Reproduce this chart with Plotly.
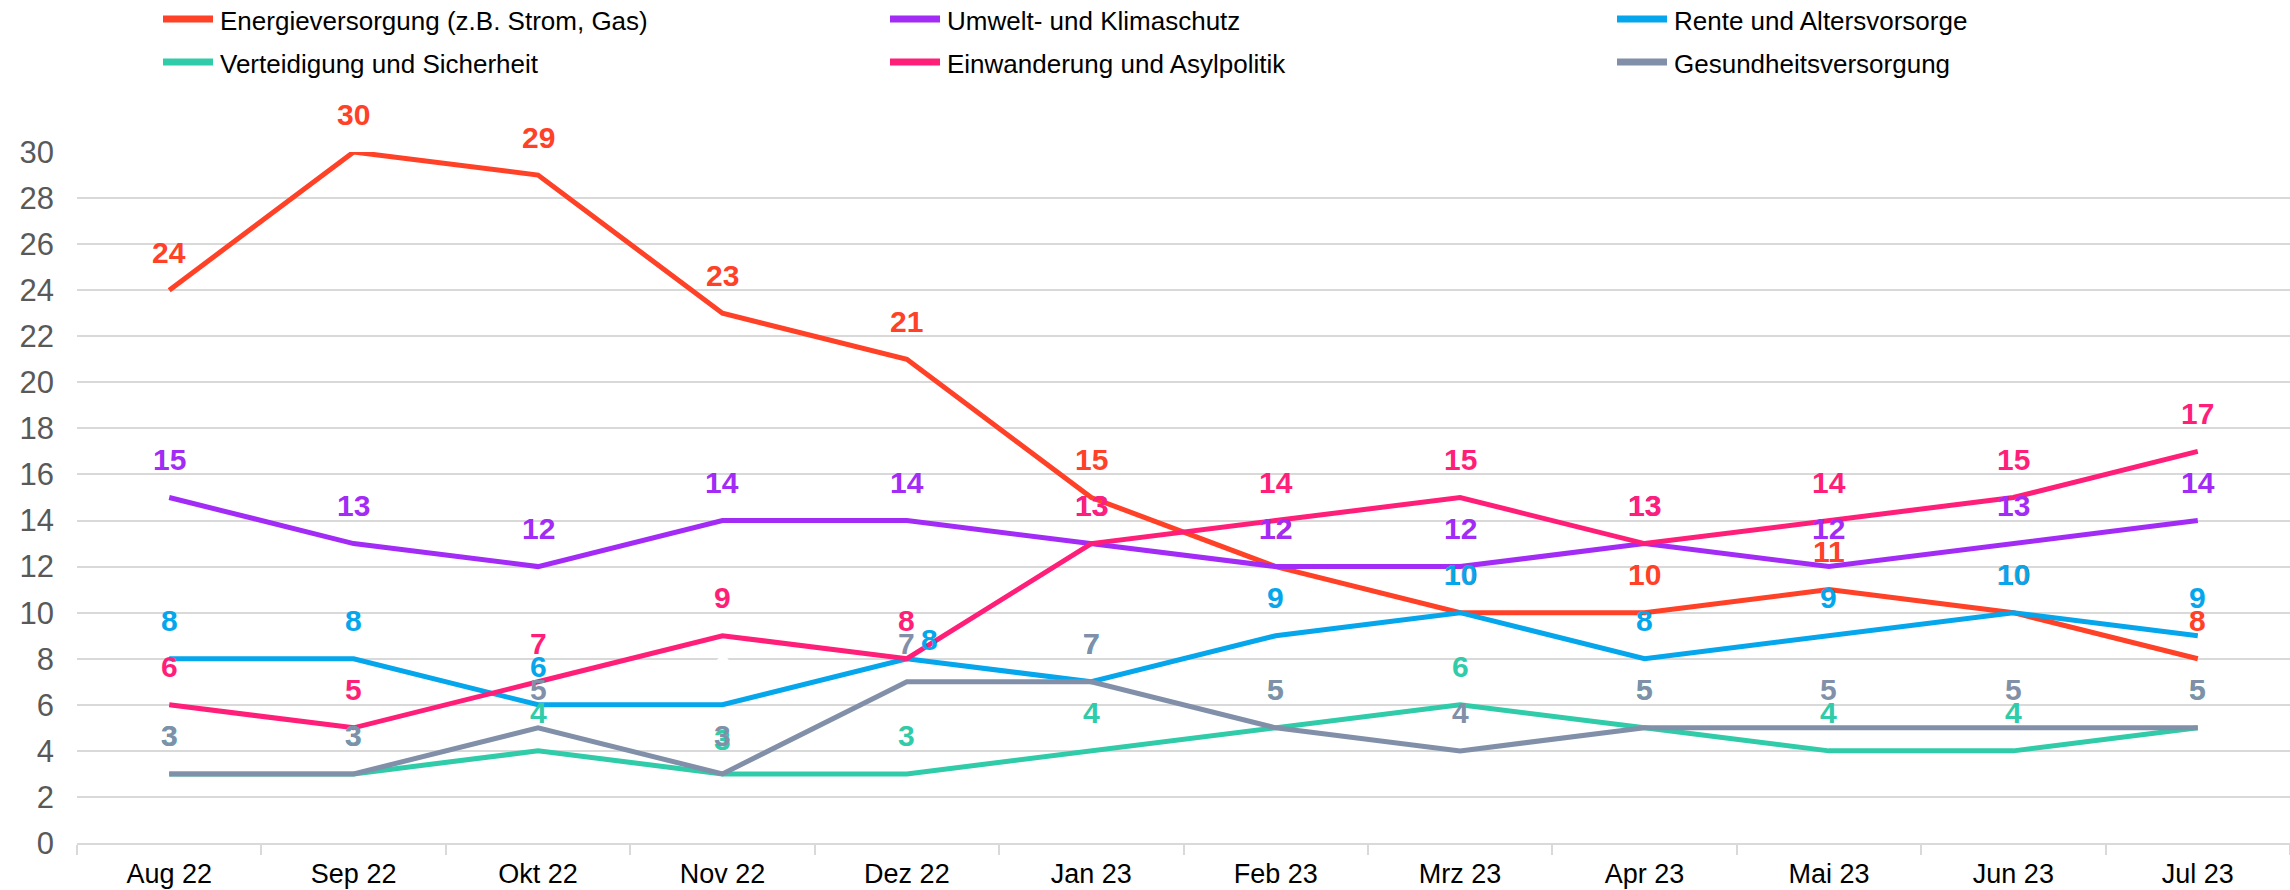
import plotly.graph_objects as go

months = ["Aug 22", "Sep 22", "Okt 22", "Nov 22", "Dez 22", "Jan 23",
          "Feb 23", "Mrz 23", "Apr 23", "Mai 23", "Jun 23", "Jul 23"]

energie = [24, 30, 29, 23, 21, 15, 12, 10, 10, 11, 10, 8]
umwelt = [15, 13, 12, 14, 14, 13, 12, 12, 13, 12, 13, 14]
rente = [8, 8, 6, 6, 8, 7, 9, 10, 8, 9, 10, 9]
verteidigung = [3, 3, 4, 3, 3, 4, 5, 6, 5, 4, 4, 5]
einwanderung = [6, 5, 7, 9, 8, 13, 14, 15, 13, 14, 15, 17]
gesundheit = [3, 3, 5, 3, 7, 7, 5, 4, 5, 5, 5, 5]

series_names = ["Energieversorgung (z.B. Strom, Gas)", "Umwelt- und Klimaschutz",
                "Rente und Altersvorsorge", "Verteidigung und Sicherheit",
                "Einwanderung und Asylpolitik", "Gesundheitsversorgung"]
series_values = [energie, umwelt, rente, verteidigung, einwanderung, gesundheit]
series_colors = ["#FF4127", "#A22CF6", "#05A6EB", "#30CBA8", "#FF1F79", "#8190A8"]

# label style overrides (series index, point index) -> (xshift, yshift, color)
label_overrides = {
    (2, 3): (0, 38, "#FFFFFF"),
    (2, 4): (23, 19, None),
    (3, 3): (0, 34, None),
}

FONT = "Liberation Sans, Arial, sans-serif"
W, H = 2290, 890
ML, MR, MT, MB = 77, 0, 152, 47
PW, PH = W - ML - MR, H - MT - MB


def px2x(px):
    return (px - ML) / PW


def py2y(py):
    return (H - MB - py) / PH


fig = go.Figure()
for name, vals, col in zip(series_names, series_values, series_colors):
    fig.add_trace(go.Scatter(
        x=months, y=vals, name=name, mode="lines",
        line=dict(color=col, width=5),
        hoverinfo="skip", showlegend=False,
    ))

annotations = []
for si, (vals, col) in enumerate(zip(series_values, series_colors)):
    for pi, (m, v) in enumerate(zip(months, vals)):
        xs, ys, c = 0, 38, col
        if (si, pi) in label_overrides:
            xs, ys, oc = label_overrides[(si, pi)]
            if oc:
                c = oc
        annotations.append(dict(
            x=m, y=v, xref="x", yref="y", text=f"<b>{v}</b>", showarrow=False,
            xshift=xs, yshift=ys, xanchor="center", yanchor="middle",
            font=dict(family=FONT, size=30, color=c),
        ))

# legend: 3 columns x 2 rows
legend_cols = [161, 888, 1615]
legend_rows = [19, 62]
shapes = []
for i, (name, col) in enumerate(zip(series_names, series_colors)):
    cx = legend_cols[i % 3]
    ry = legend_rows[i // 3]
    shapes.append(dict(
        type="line", xref="paper", yref="paper",
        x0=px2x(cx + 2), x1=px2x(cx + 52), y0=py2y(ry), y1=py2y(ry),
        line=dict(color=col, width=7),
    ))
    annotations.append(dict(
        x=px2x(cx + 57), y=py2y(ry + 2), xref="paper", yref="paper",
        text=name, showarrow=False, xanchor="left", yanchor="middle",
        font=dict(family=FONT, size=26, color="#000000"),
    ))

fig.update_layout(
    width=W, height=H,
    margin=dict(l=ML, r=MR, t=MT, b=MB),
    paper_bgcolor="white", plot_bgcolor="white",
    font=dict(family=FONT, color="#000000"),
    annotations=annotations,
    shapes=shapes,
    showlegend=False,
    xaxis=dict(
        type="category", categoryorder="array", categoryarray=months,
        range=[-0.5, len(months) - 0.5],
        showgrid=False, zeroline=False,
        showline=True, linecolor="#D9D9D9", linewidth=2,
        ticks="outside", tickson="boundaries", ticklen=10, tickcolor="#D9D9D9", tickwidth=2,
        tickfont=dict(family=FONT, size=27, color="#000000"),
        ticklabelstandoff=6,
        automargin=False,
    ),
    yaxis=dict(
        range=[0, 30], dtick=2, tick0=0,
        showgrid=True, gridcolor="#D9D9D9", gridwidth=2,
        zeroline=False, showline=False,
        tickfont=dict(family=FONT, size=31, color="#595959"),
        ticklabelstandoff=22,
        automargin=False,
    ),
)

fig.write_html("out.html",
               config={"displayModeBar": False},
               post_script="document.body.style.margin='0';document.body.style.overflow='hidden';")
